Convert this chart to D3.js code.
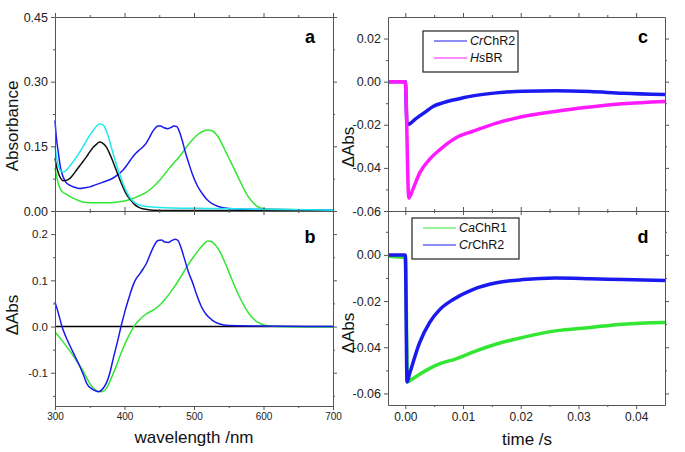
<!DOCTYPE html>
<html>
<head>
<meta charset="utf-8">
<script src="https://cdn.jsdelivr.net/npm/d3@7"></script>
<style>
  body { margin: 0; background: #fff; }
  text { font-family: "Liberation Sans", Arial, sans-serif; }
</style>
</head>
<body>
<div id="chart"></div>
<script>
// ---- data ----
// panel a: absorbance spectra [nm, A]
const absBlue = [[300,0.210],[302,0.170],[305,0.133],[308,0.100],[310,0.087],[315,0.068],[321,0.060],[328,0.055],[336,0.052],[343,0.054],[350,0.056],[357,0.060],[364,0.064],[373,0.069],[383,0.076],[391,0.085],[398,0.095],[405,0.110],[412,0.126],[417,0.135],[421,0.141],[426,0.148],[431,0.157],[436,0.171],[440,0.183],[444,0.192],[448,0.197],[452,0.197],[457,0.193],[462,0.191],[467,0.194],[471,0.197],[475,0.196],[479,0.184],[483,0.164],[488,0.134],[493,0.108],[498,0.084],[505,0.058],[512,0.040],[519,0.026],[526,0.017],[536,0.010],[550,0.006],[580,0.004],[640,0.003],[700,0.002]];
const absGreen = [[300,0.100],[303,0.075],[305,0.062],[308,0.050],[311,0.044],[316,0.039],[321,0.034],[330,0.027],[340,0.021],[355,0.019],[374,0.019],[390,0.021],[402,0.024],[412,0.029],[421,0.035],[430,0.042],[440,0.054],[450,0.070],[460,0.090],[469,0.108],[479,0.126],[489,0.148],[498,0.166],[506,0.178],[513,0.185],[520,0.188],[526,0.186],[532,0.178],[539,0.160],[546,0.136],[552,0.117],[558,0.097],[566,0.070],[574,0.044],[582,0.025],[590,0.012],[598,0.006],[610,0.004],[650,0.003],[700,0.002]];
const absBlack = [[300,0.122],[303,0.098],[306,0.083],[309,0.074],[312,0.070],[316,0.071],[321,0.075],[326,0.084],[331,0.095],[338,0.110],[345,0.125],[350,0.137],[355,0.148],[360,0.155],[364,0.160],[368,0.158],[374,0.148],[380,0.128],[388,0.095],[395,0.066],[402,0.041],[408,0.027],[414,0.016],[420,0.009],[426,0.005],[440,0.002],[470,0.001],[550,0.001],[700,0.000]];
const absCyan = [[300,0.150],[303,0.118],[306,0.100],[310,0.091],[313,0.091],[317,0.096],[321,0.104],[326,0.114],[333,0.130],[340,0.148],[347,0.168],[355,0.187],[360,0.197],[364,0.202],[368,0.201],[371,0.196],[376,0.176],[381,0.148],[387,0.115],[393,0.085],[400,0.055],[407,0.033],[414,0.020],[421,0.014],[430,0.011],[440,0.009],[469,0.007],[520,0.006],[600,0.004],[700,0.002]];

// panel b: difference spectra [nm, dA]
const diffBlue = [[300,0.053],[305,0.028],[310,0.000],[315,-0.020],[321,-0.040],[328,-0.062],[336,-0.087],[341,-0.105],[346,-0.124],[352,-0.134],[358,-0.139],[363,-0.141],[368,-0.136],[374,-0.122],[379,-0.100],[384,-0.068],[390,-0.032],[395,0.000],[401,0.035],[407,0.065],[412,0.088],[417,0.104],[422,0.114],[427,0.125],[432,0.138],[438,0.160],[443,0.176],[448,0.186],[453,0.187],[458,0.183],[463,0.182],[468,0.186],[473,0.189],[477,0.186],[481,0.172],[486,0.148],[492,0.118],[498,0.095],[504,0.068],[510,0.045],[517,0.027],[526,0.014],[536,0.006],[550,0.002],[600,0.001],[700,0.000]];
const diffGreen = [[300,-0.012],[310,-0.030],[320,-0.050],[330,-0.072],[340,-0.095],[348,-0.118],[355,-0.133],[362,-0.140],[368,-0.141],[374,-0.134],[380,-0.115],[387,-0.090],[395,-0.058],[403,-0.030],[409,-0.012],[414,0.001],[420,0.012],[430,0.026],[443,0.037],[452,0.048],[460,0.062],[470,0.082],[480,0.105],[490,0.130],[500,0.152],[508,0.168],[515,0.180],[520,0.185],[525,0.184],[531,0.176],[538,0.160],[546,0.133],[555,0.100],[563,0.072],[572,0.045],[582,0.022],[592,0.009],[602,0.003],[620,0.000],[650,-0.001],[700,-0.001]];

// panel c: transients [s, dA]
const crChR2C = [[-0.003,0],[0,0],[0.0003,-0.020],[0.0019,-0.017],[0.0035,-0.014],[0.0048,-0.0115],[0.0065,-0.0098],[0.0083,-0.0085],[0.010,-0.0075],[0.0117,-0.0066],[0.0158,-0.0052],[0.0204,-0.0044],[0.026,-0.0042],[0.032,-0.0046],[0.0377,-0.0054],[0.045,-0.0060]];
const hsBRC = [[-0.003,0],[0,0],[0.0006,-0.054],[0.0013,-0.050],[0.0025,-0.0423],[0.0042,-0.036],[0.006,-0.0315],[0.0088,-0.026],[0.0117,-0.023],[0.0158,-0.0192],[0.0204,-0.0162],[0.026,-0.0138],[0.032,-0.0118],[0.0377,-0.0103],[0.045,-0.0092]];

// panel d: transients [s, dA]
const caChR1D = [[-0.003,-0.0005],[-0.0005,-0.001],[0,-0.001],[0.0004,-0.055],[0.0013,-0.0536],[0.0036,-0.050],[0.006,-0.0471],[0.0088,-0.045],[0.0117,-0.0421],[0.0158,-0.0386],[0.0204,-0.0357],[0.026,-0.0329],[0.032,-0.0314],[0.0377,-0.0300],[0.045,-0.0293]];
const crChR2D = [[-0.003,0],[0,0],[0.0003,-0.055],[0.00075,-0.0514],[0.0025,-0.0379],[0.0042,-0.0293],[0.006,-0.0236],[0.0083,-0.0193],[0.0117,-0.0150],[0.0158,-0.0121],[0.0204,-0.0107],[0.026,-0.0100],[0.032,-0.0103],[0.0377,-0.0107],[0.045,-0.0111]];

// ticks
const wlTicks = [300, 400, 500, 600, 700];
const wlMinor = [350, 450, 550, 650];
const absTicks = [0, 0.15, 0.30, 0.45];
const absMinor = [0.075, 0.225, 0.375];
const diffTicks = [-0.1, 0, 0.1, 0.2];
const diffMinor = [-0.15, -0.05, 0.05, 0.15];
const cTicks = [-0.06, -0.04, -0.02, 0, 0.02];
const cMinor = [-0.05, -0.03, -0.01, 0.01];
const dTicks = [-0.06, -0.04, -0.02, 0];
const dMinor = [-0.05, -0.03, -0.01, 0.01];
const tTicks = [0, 0.01, 0.02, 0.03, 0.04];
const tMinor = [0.005, 0.015, 0.025, 0.035];

const BLUE = "#1a1aef", GREEN = "#33e633", CYAN = "#1ee8f0", MAGENTA = "#ff1aff";

const width = 685, height = 452;
const svg = d3.select("#chart")
  .append("svg")
    .attr("width", width)
    .attr("height", height);

const hy = f => (d => f(d).replace("\u2212", "-"));

// draws a box with mirrored outward ticks
function frame(x, y, o) {
  const [x0, x1] = x.range();
  const [y1, y0] = y.range();
  const g = svg.append("g");
  const sides = [
    [d3.axisLeft, x0, 0, y, o.yt, o.ym, o.yfmt, o.yfs],
    [d3.axisRight, x1, 0, y, o.yt, o.ym, null],
    [d3.axisTop, 0, y0, x, o.xt, o.xm, null],
    [d3.axisBottom, 0, y1, x, o.xt, o.xm, o.xfmt, o.xfs]
  ];
  sides.forEach(([ax, tx, ty, sc, major, minor, fmt, fs]) => {
    g.append("g")
      .attr("transform", `translate(${tx},${ty})`)
      .call(ax(sc).tickValues(minor).tickSize(2).tickSizeOuter(0).tickFormat(""))
      .call(s => s.select(".domain").remove());
    const a = g.append("g")
      .attr("transform", `translate(${tx},${ty})`)
      .call(ax(sc).tickValues(major).tickSize(4).tickSizeOuter(0)
        .tickFormat(fmt ? fmt : ""));
    a.selectAll("text").attr("font-size", fs || 12).attr("fill", "#222")
      .attr("font-family", "Liberation Sans, Arial, sans-serif");
  });
  g.selectAll("line, path").attr("stroke", "#555");
  return g;
}

const line = (x, y) => d3.line().x(d => x(d[0])).y(d => y(d[1])).curve(d3.curveMonotoneX);

function trace(data, x, y, color, w) {
  svg.append("path")
    .datum(data)
    .attr("fill", "none")
    .attr("stroke", color)
    .attr("stroke-width", w)
    .attr("stroke-linejoin", "round")
    .attr("d", line(x, y));
}

// ---- panel a ----
const xW = d3.scaleLinear().domain([300, 700]).range([55, 333]);
const yA = d3.scaleLinear().domain([0, 0.45]).range([211, 17]);
trace(absGreen, xW, yA, GREEN, 1.5);
trace(absBlue, xW, yA, BLUE, 1.5);
trace(absBlack, xW, yA, "#111", 1.5);
trace(absCyan, xW, yA, CYAN, 1.5);
frame(xW, yA, {xt: wlTicks, xm: wlMinor, yt: absTicks, ym: absMinor,
  yfmt: hy(d3.format(".2f")), yfs: 12.5});

// ---- panel b ----
const yB = d3.scaleLinear().domain([-0.172, 0.25]).range([406, 211]);
svg.append("line")
  .attr("x1", xW(300)).attr("x2", xW(700))
  .attr("y1", yB(0)).attr("y2", yB(0))
  .attr("stroke", "#000").attr("stroke-width", 1.5);
trace(diffGreen, xW, yB, GREEN, 1.5);
trace(diffBlue, xW, yB, BLUE, 1.5);
frame(xW, yB, {xt: wlTicks, xm: wlMinor, yt: diffTicks, ym: diffMinor,
  yfmt: hy(d3.format(".1f")), yfs: 11.5, xfmt: d3.format("d"), xfs: 10});

// ---- panel c ----
const xT = d3.scaleLinear().domain([-0.003, 0.045]).range([388, 665]);
const yC = d3.scaleLinear().domain([-0.06, 0.03]).range([211, 17]);
trace(crChR2C, xT, yC, BLUE, 3.5);
trace(hsBRC, xT, yC, MAGENTA, 3.5);
frame(xT, yC, {xt: tTicks, xm: tMinor, yt: cTicks, ym: cMinor,
  yfmt: hy(d3.format(".2f")), yfs: 12.5});

// ---- panel d ----
const yD = d3.scaleLinear().domain([-0.065, 0.019]).range([405, 211]);
trace(caChR1D, xT, yD, GREEN, 3.5);
trace(crChR2D, xT, yD, BLUE, 3.5);
frame(xT, yD, {xt: tTicks, xm: tMinor, yt: dTicks, ym: dMinor,
  yfmt: hy(d3.format(".2f")), yfs: 12.5, xfmt: d3.format(".2f"), xfs: 12});

// ---- axis titles ----
const title = (t, x, y, rot) => svg.append("text")
  .attr("transform", `translate(${x},${y})` + (rot ? " rotate(-90)" : ""))
  .attr("text-anchor", "middle")
  .attr("dominant-baseline", "central")
  .attr("font-size", 17)
  .attr("fill", "#111")
  .text(t);
title("Absorbance", 12, 126, true);
title("\u0394Abs", 12, 315, true);
title("\u0394Abs", 348, 147, true);
title("\u0394Abs", 348, 333, true);
title("wavelength /nm", 194, 437);
title("time /s", 527, 439);

// panel letters
[["a", 310, 37], ["b", 310, 237], ["c", 643, 37], ["d", 643, 237]].forEach(([t, x, y]) => {
  svg.append("text").attr("x", x).attr("y", y)
    .attr("text-anchor", "middle").attr("dominant-baseline", "central")
    .attr("font-size", 18).attr("font-weight", "bold").text(t);
});

// ---- legends ----
function legend(x0, y0, w, h, items) {
  svg.append("rect").attr("x", x0).attr("y", y0).attr("width", w).attr("height", h)
    .attr("fill", "#fff").attr("stroke", "#333").attr("stroke-width", 1.3);
  items.forEach((it, i) => {
    const ly = y0 + 10 + i * 17;
    svg.append("line").attr("x1", x0 + 11).attr("x2", x0 + 44)
      .attr("y1", ly).attr("y2", ly).attr("stroke", it.color).attr("stroke-width", 1.2);
    const t = svg.append("text").attr("x", x0 + 47).attr("y", ly)
      .attr("dominant-baseline", "central").attr("font-size", 12.5).attr("fill", "#111");
    t.append("tspan").attr("font-style", "italic").text(it.it);
    t.append("tspan").text(it.rest);
  });
}
legend(423, 31, 95, 41, [{color: BLUE, it: "Cr", rest: "ChR2"}, {color: MAGENTA, it: "Hs", rest: "BR"}]);
legend(412, 218, 107, 41, [{color: GREEN, it: "Ca", rest: "ChR1"}, {color: BLUE, it: "Cr", rest: "ChR2"}]);
</script>
</body>
</html>
